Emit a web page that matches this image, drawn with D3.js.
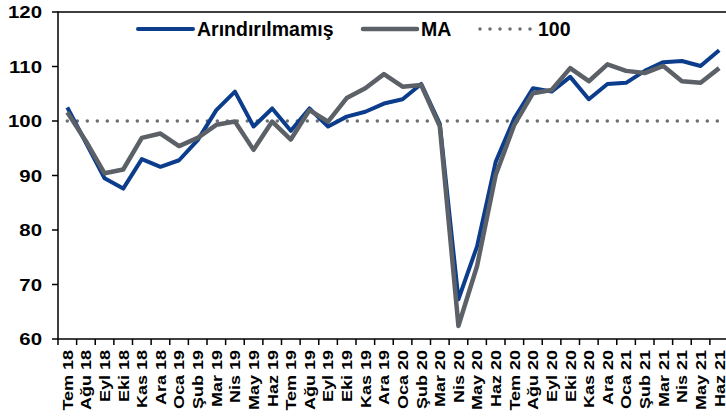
<!DOCTYPE html>
<html>
<head>
<meta charset="utf-8">
<script src="https://cdn.jsdelivr.net/npm/d3@7"></script>
<style>
  body { margin: 0; background: #fff; }
  text { font-family: Arial, "Liberation Sans", sans-serif; font-weight: bold; fill: #000; }
</style>
</head>
<body>
<div id="chart"></div>
<script>
// data
var months = ["Tem 18","Ağu 18","Eyl 18","Eki 18","Kas 18","Ara 18","Oca 19","Şub 19","Mar 19","Nis 19",
  "May 19","Haz 19","Tem 19","Ağu 19","Eyl 19","Eki 19","Kas 19","Ara 19","Oca 20","Şub 20",
  "Mar 20","Nis 20","May 20","Haz 20","Tem 20","Ağu 20","Eyl 20","Eki 20","Kas 20","Ara 20",
  "Oca 21","Şub 21","Mar 21","Nis 21","May 21","Haz 21"];
var arindirilmamis = [102.5, 96.0, 89.5, 87.6, 93.0, 91.6, 92.8, 96.5, 102.0, 105.4,
  99.0, 102.3, 98.2, 102.3, 99.0, 100.8, 101.7, 103.2, 104.0, 106.8,
  99.5, 67.3, 77.0, 92.5, 100.5, 106.0, 105.4, 108.1, 104.0, 106.8,
  107.0, 109.2, 110.8, 111.0, 110.1, 113.0];
var ma = [101.6, 96.3, 90.4, 91.1, 96.9, 97.7, 95.4, 96.9, 99.3, 99.9,
  94.7, 99.9, 96.6, 102.0, 99.9, 104.2, 106.0, 108.6, 106.3, 106.6,
  99.0, 62.4, 73.4, 90.1, 99.3, 105.1, 105.7, 109.7, 107.3, 110.4,
  109.2, 108.8, 110.1, 107.3, 107.0, 109.7];
var ref100 = months.map(function() { return 100; });
var yTicks = [60, 70, 80, 90, 100, 110, 120];
var legendNames = ["Arındırılmamış", "MA", "100"];

var width = 726, height = 416;
var pLeft = 58, pRight = 728.5, pTop = 12, pBottom = 339;
var stretch = 1.2;

var svg = d3.select("#chart").append("svg")
  .attr("width", width)
  .attr("height", height);

var x = d3.scaleBand().domain(months).range([pLeft, pRight]);
var y = d3.scaleLinear().domain([60, 120]).range([pBottom, pTop]);
var cx = function(d, i) { return x(months[i]) + x.bandwidth() / 2; };

// plot frame
svg.append("rect")
  .attr("x", pLeft).attr("y", pTop)
  .attr("width", pRight - pLeft).attr("height", pBottom - pTop)
  .attr("fill", "none").attr("stroke", "#000").attr("stroke-width", 1.5);

// y axis ticks + labels
var yg = svg.append("g").attr("transform", "translate(" + pLeft + ",0)");
yg.selectAll("line.tk").data(yTicks).enter().append("line")
  .attr("x1", -6).attr("x2", 0)
  .attr("y1", function(d) { return y(d); }).attr("y2", function(d) { return y(d); })
  .attr("stroke", "#000").attr("stroke-width", 1.5);
yg.selectAll("text").data(yTicks).enter().append("text")
  .attr("transform", function(d) { return "translate(-16," + y(d) + ") scale(" + stretch + ",1)"; })
  .attr("dy", "0.36em")
  .attr("text-anchor", "end")
  .attr("font-size", 17)
  .text(function(d) { return d; });

// x axis ticks + labels
var xb = months.map(function(m) { return x(m); }).concat([pRight]);
svg.selectAll("line.xt").data(xb).enter().append("line")
  .attr("x1", function(d) { return d; }).attr("x2", function(d) { return d; })
  .attr("y1", pBottom).attr("y2", pBottom + 6)
  .attr("stroke", "#000").attr("stroke-width", 1.5);
svg.selectAll("text.xl").data(months).enter().append("text")
  .attr("class", "xl")
  .attr("transform", function(d, i) { return "translate(" + cx(d, i) + ",350) rotate(-90) scale(" + stretch + ",1)"; })
  .attr("dy", "0.36em")
  .attr("text-anchor", "end")
  .attr("font-size", 15)
  .text(function(d) { return d; });

// lines
var line = d3.line().x(cx).y(function(d) { return y(d); });

svg.append("path").datum(ref100)
  .attr("d", line)
  .attr("fill", "none").attr("stroke", "#6b6e72").attr("stroke-width", 3.5)
  .attr("stroke-linecap", "round").attr("stroke-dasharray", "0 10");

svg.append("path").datum(arindirilmamis)
  .attr("d", line)
  .attr("fill", "none").attr("stroke", "#0b3d8c").attr("stroke-width", 4)
  .attr("stroke-linejoin", "round");

svg.append("path").datum(ma)
  .attr("d", line)
  .attr("fill", "none").attr("stroke", "#5c6167").attr("stroke-width", 4.5)
  .attr("stroke-linejoin", "round");

// legend
var legend = [
  { name: legendNames[0], x1: 138, x2: 193, tx: 197, color: "#0b3d8c", dash: null, w: 4 },
  { name: legendNames[1], x1: 363, x2: 417, tx: 421, color: "#5c6167", dash: null, w: 4.5 },
  { name: legendNames[2], x1: 480, x2: 532, tx: 538, color: "#6b6e72", dash: "0 10", w: 3.5 }
];
var lg = svg.append("g");
lg.selectAll("line").data(legend).enter().append("line")
  .attr("x1", function(d) { return d.x1; }).attr("x2", function(d) { return d.x2; })
  .attr("y1", 29).attr("y2", 29)
  .attr("stroke", function(d) { return d.color; })
  .attr("stroke-width", function(d) { return d.w; })
  .attr("stroke-linecap", "round")
  .attr("stroke-dasharray", function(d) { return d.dash; });
lg.selectAll("text").data(legend).enter().append("text")
  .attr("x", function(d) { return d.tx; })
  .attr("y", 29)
  .attr("dy", "0.36em")
  .attr("font-size", 19.5)
  .text(function(d) { return d.name; });
</script>
</body>
</html>
